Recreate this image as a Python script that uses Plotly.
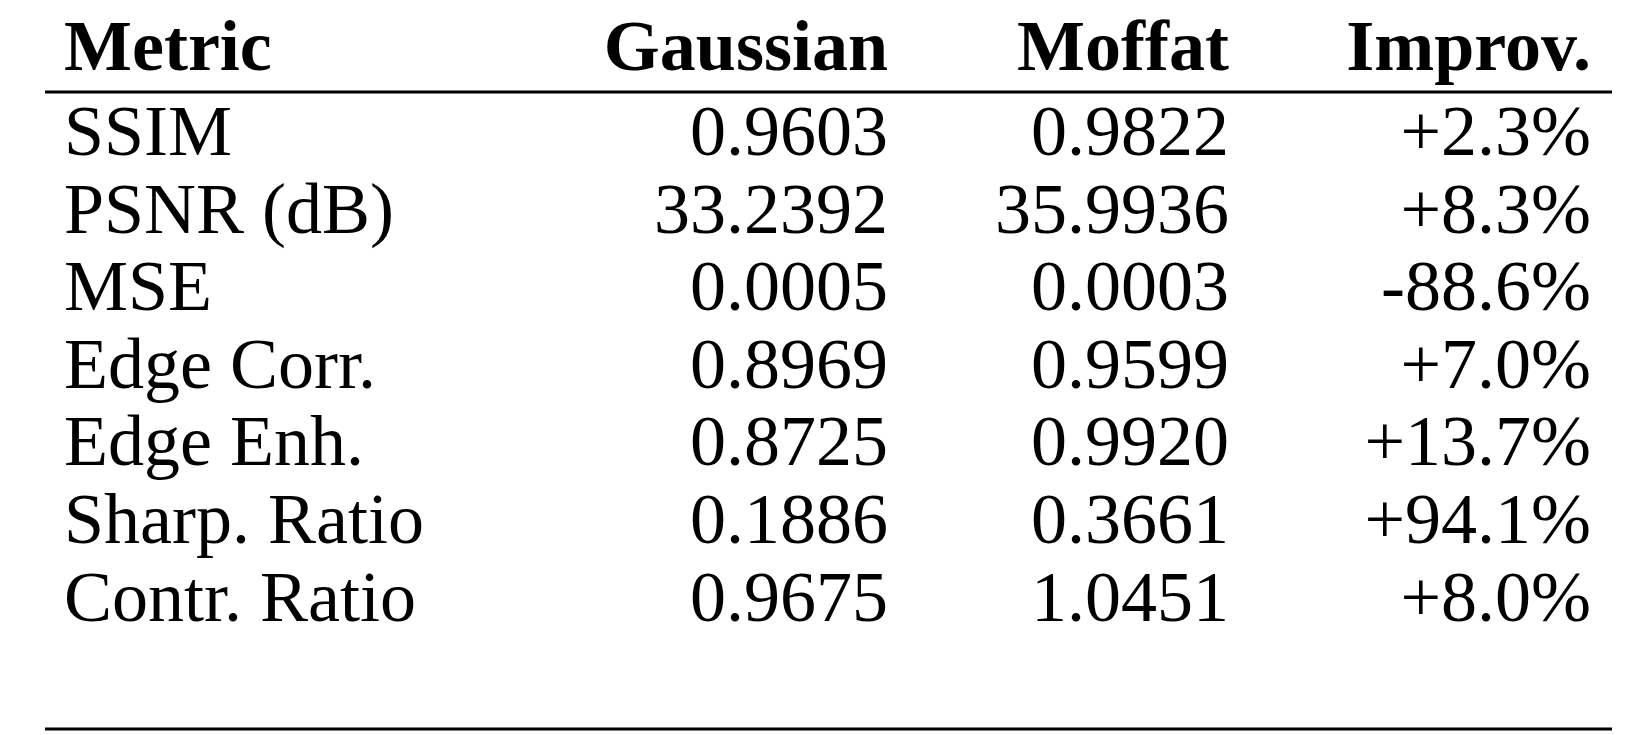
import plotly.graph_objects as go

headers = ["Metric", "Gaussian", "Moffat", "Improv."]
metrics = ["SSIM", "PSNR (dB)", "MSE", "Edge Corr.", "Edge Enh.", "Sharp. Ratio", "Contr. Ratio"]
gaussian = ["0.9603", "33.2392", "0.0005", "0.8969", "0.8725", "0.1886", "0.9675"]
moffat = ["0.9822", "35.9936", "0.0003", "0.9599", "0.9920", "0.3661", "1.0451"]
improv = ["+2.3%", "+8.3%", "-88.6%", "+7.0%", "+13.7%", "+94.1%", "+8.0%"]

FONT = "Liberation Serif"
SIZE = 72
left_x = 56
right_x = [880, 1221, 1583]
header_y = 44
row_y = [129 + 77.6 * i for i in range(len(metrics))]

fig = go.Figure()
fig.add_trace(go.Scatter(x=[left_x], y=[header_y], mode="text", text=["<b>"+headers[0]+"</b>"],
                         textposition="middle right", textfont=dict(family=FONT, size=SIZE, color="black"), cliponaxis=False))
fig.add_trace(go.Scatter(x=right_x, y=[header_y]*3, mode="text", text=["<b>"+h+"</b>" for h in headers[1:]],
                         textposition="middle left", textfont=dict(family=FONT, size=SIZE, color="black"), cliponaxis=False))
fig.add_trace(go.Scatter(x=[left_x]*len(metrics), y=row_y, mode="text", text=metrics,
                         textposition="middle right", textfont=dict(family=FONT, size=SIZE, color="black"), cliponaxis=False))
for xr, col in zip(right_x, [gaussian, moffat, improv]):
    fig.add_trace(go.Scatter(x=[xr]*len(col), y=row_y, mode="text", text=col,
                             textposition="middle left", textfont=dict(family=FONT, size=SIZE, color="black"), cliponaxis=False))

for y, w in [(84, 3), (721, 3)]:
    fig.add_shape(type="line", x0=37, x1=1604, y0=y, y1=y, line=dict(color="black", width=w))

fig.update_layout(width=1650, height=735, margin=dict(l=0, r=0, t=0, b=0),
                  plot_bgcolor="white", paper_bgcolor="white", showlegend=False,
                  xaxis=dict(range=[0, 1650], visible=False, fixedrange=True),
                  yaxis=dict(range=[735, 0], visible=False, fixedrange=True))
fig.write_html("out.html")
